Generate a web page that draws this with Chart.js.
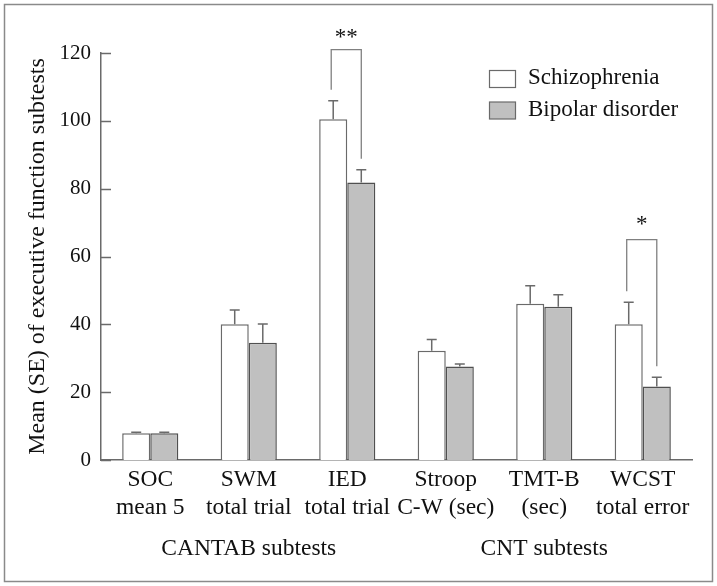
<!DOCTYPE html>
<html>
<head>
<meta charset="utf-8">
<script src="https://cdn.jsdelivr.net/npm/chart.js@4"></script>
<style>
  html, body { margin: 0; padding: 0; background: #fff; }
  #wrap { width: 717px; height: 586px; position: relative; }
  canvas { display: block; }
</style>
</head>
<body>
<div id="wrap"><canvas id="c" width="717" height="586"></canvas></div>
<script>
const categories = [['SOC', 'mean 5'], ['SWM', 'total trial'], ['IED', 'total trial'], ['Stroop', 'C-W (sec)'], ['TMT-B', '(sec)'], ['WCST', 'total error']];
const seriesNames = ['Schizophrenia', 'Bipolar disorder'];
const schizophrenia = [7.9, 40.0, 100.5, 32.2, 46.1, 40.0];
const schizophreniaSE = [0.3, 4.2, 5.4, 3.3, 5.3, 6.5];
const bipolar = [7.9, 34.6, 81.8, 27.6, 45.2, 21.7];
const bipolarSE = [0.3, 5.5, 3.8, 0.7, 3.5, 2.7];
const significance = ['', '', '**', '', '', '*'];
const bracketTop = [null, null, 121, null, null, 65];
const groupNames = ['CANTAB subtests', 'CNT subtests'];
const groupRanges = [[0, 2], [3, 5]];
const yTicks = [0, 20, 40, 60, 80, 100, 120];

const FONT = "'Liberation Serif', 'DejaVu Serif', serif";
const fills = ['#ffffff', '#c0c0c0'];
const borders = ['#6a6a6a', '#505050'];

const extras = {
  id: 'extras',
  afterDatasetsDraw(chart) {
    const ctx = chart.ctx;
    const y = chart.scales.y, x = chart.scales.x;
    const ca = chart.chartArea;
    ctx.save();
    // inward y ticks
    ctx.strokeStyle = '#6a6a6a';
    ctx.lineWidth = 1.5;
    yTicks.forEach(v => {
      const py = Math.round(y.getPixelForValue(v)) + 0.5;
      ctx.beginPath(); ctx.moveTo(ca.left, py); ctx.lineTo(ca.left + 10, py); ctx.stroke();
    });
    // error bars
    const ses = [schizophreniaSE, bipolarSE];
    const vals = [schizophrenia, bipolar];
    ctx.strokeStyle = '#6a6a6a';
    ctx.lineWidth = 1.5;
    const centers = [[], []];
    for (let d = 0; d < 2; d++) {
      const meta = chart.getDatasetMeta(d);
      meta.data.forEach((bar, i) => {
        const cx = bar.x;
        centers[d][i] = cx;
        const top = y.getPixelForValue(vals[d][i]);
        const et = y.getPixelForValue(vals[d][i] + ses[d][i]);
        ctx.beginPath();
        ctx.moveTo(cx, top); ctx.lineTo(cx, et);
        ctx.moveTo(cx - 5, et); ctx.lineTo(cx + 5, et);
        ctx.stroke();
      });
    }
    // significance brackets
    ctx.strokeStyle = '#808080';
    ctx.lineWidth = 1.3;
    ctx.fillStyle = '#111';
    ctx.font = '23px ' + FONT;
    ctx.textAlign = 'center';
    ctx.textBaseline = 'alphabetic';
    significance.forEach((s, i) => {
      if (!s) return;
      const lx = centers[0][i] - 2, rx = centers[1][i];
      const ly = y.getPixelForValue(schizophrenia[i] + schizophreniaSE[i]) - 11;
      const ry = y.getPixelForValue(bipolar[i] + bipolarSE[i]) - 11;
      const ty = y.getPixelForValue(bracketTop[i]);
      ctx.beginPath();
      ctx.moveTo(lx, ly); ctx.lineTo(lx, ty); ctx.lineTo(rx, ty); ctx.lineTo(rx, ry);
      ctx.stroke();
      ctx.fillText(s, (lx + rx) / 2, ty - (s.length > 1 ? 6 : 9));
    });
    // group labels
    ctx.font = '23.5px ' + FONT;
    ctx.textBaseline = 'middle';
    groupNames.forEach((g, k) => {
      const a = x.getPixelForValue(groupRanges[k][0]);
      const b = x.getPixelForValue(groupRanges[k][1]);
      ctx.fillText(g, (a + b) / 2, 549);
    });
    // legend
    ctx.font = '23px ' + FONT;
    ctx.textAlign = 'left';
    seriesNames.forEach((n, k) => {
      const by = 70 + k * 31.5;
      ctx.fillStyle = fills[k];
      ctx.fillRect(489.5, by + 0.5, 26, 17);
      ctx.strokeStyle = '#6a6a6a';
      ctx.lineWidth = 1.2;
      ctx.strokeRect(489.5, by + 0.5, 26, 17);
      ctx.fillStyle = '#111';
      ctx.fillText(n, 528, by + 8);
    });
    // frame
    ctx.strokeStyle = '#8a8a8a';
    ctx.lineWidth = 1.5;
    ctx.strokeRect(4.5, 4.5, 708, 577);
    ctx.restore();
  }
};

new Chart(document.getElementById('c'), {
  type: 'bar',
  data: {
    labels: categories,
    datasets: [
      { label: seriesNames[0], data: schizophrenia, backgroundColor: fills[0], borderColor: borders[0], borderWidth: 1.5 },
      { label: seriesNames[1], data: bipolar, backgroundColor: fills[1], borderColor: borders[1], borderWidth: 1.5 }
    ]
  },
  options: {
    responsive: false,
    animation: false,
    devicePixelRatio: 1,
    layout: { padding: { top: 53, left: 23, right: 25, bottom: 0 } },
    datasets: { bar: { categoryPercentage: 0.57, barPercentage: 1.0 } },
    plugins: { legend: { display: false }, tooltip: { enabled: false } },
    scales: {
      x: {
        grid: { display: false, drawTicks: false },
        border: { display: true, color: '#6a6a6a', width: 1.5 },
        ticks: { color: '#111', font: { family: FONT, size: 23.5 }, lineHeight: 1.2, padding: 6, maxRotation: 0, autoSkip: false },
        afterFit(s) { s.height = 126; }
      },
      y: {
        min: 0, max: 120,
        afterBuildTicks(s) { s.ticks = yTicks.map(v => ({ value: v })); },
        grid: { display: false, drawTicks: false },
        border: { display: true, color: '#6a6a6a', width: 1.5 },
        ticks: { color: '#111', font: { family: FONT, size: 21 }, padding: 10 },
        title: { display: true, text: 'Mean (SE) of executive function subtests', color: '#111', font: { family: FONT, size: 24 }, padding: 0 },
        afterFit(s) { s.width = 78; }
      }
    }
  },
  plugins: [extras]
});
</script>
</body>
</html>
